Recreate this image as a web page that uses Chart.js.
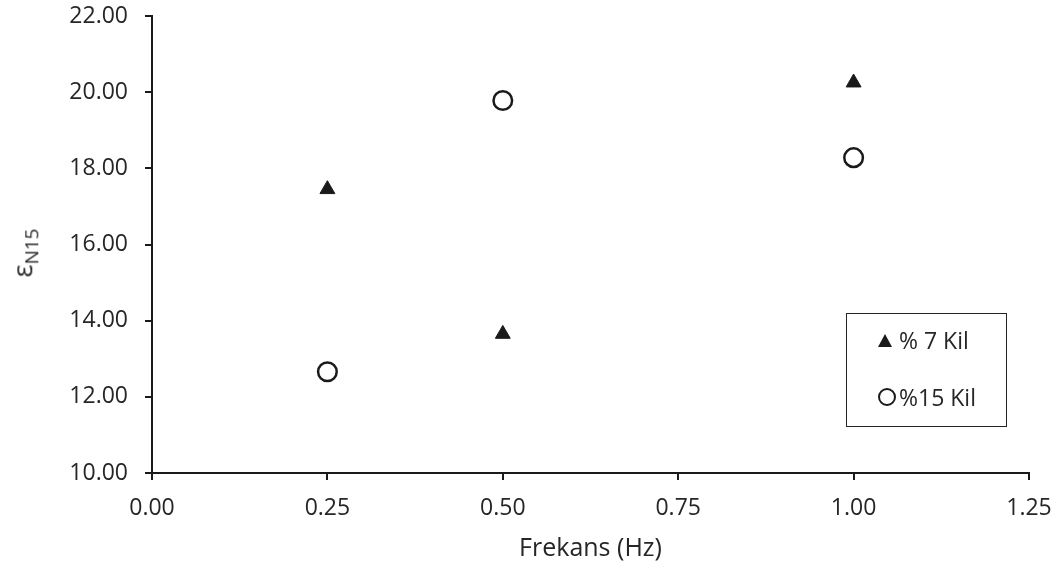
<!DOCTYPE html>
<html>
<head>
<meta charset="utf-8">
<script src="https://cdn.jsdelivr.net/npm/chart.js@4/dist/chart.umd.min.js"></script>
<style>
  body { margin: 0; background: #fff; }
  #wrap { position: relative; width: 1058px; height: 569px; font-family: "Open Sans", sans-serif; color: #262626; }
  #ytitle { position: absolute; left: 24px; top: 253px; transform: translate(-50%, -50%) rotate(-90deg); font-size: 27px; white-space: nowrap; }
  #ytitle sub { font-size: 19px; }
  #legend { position: absolute; left: 846px; top: 313px; width: 159px; height: 112px; border: 1.5px solid #262626; font-size: 23px; }
  .item { position: absolute; left: 31px; display: flex; align-items: center; }
  .tri { width: 0; height: 0; border-left: 7.5px solid transparent; border-right: 7.5px solid transparent; border-bottom: 13px solid #1a1a1a; margin-right: 7px; }
  .circ { width: 14px; height: 14px; border: 2.5px solid #1a1a1a; border-radius: 50%; margin-right: 3px; }
</style>
</head>
<body>
<div id="wrap">
  <canvas id="chart" width="1058" height="569"></canvas>
  <div id="ytitle">ε<sub>N15</sub></div>
  <div id="legend">
    <div class="item" style="top: 10px;"><span class="tri"></span><span>% 7 Kil</span></div>
    <div class="item" style="top: 67px;"><span class="circ"></span><span>%15 Kil</span></div>
  </div>
</div>
<script>
// Veriler
const frekans = [0.25, 0.50, 1.00];
const kil7 = [17.45, 13.65, 20.25];
const kil15 = [12.66, 19.78, 18.28];
const xTicks = [0, 0.25, 0.5, 0.75, 1.0, 1.25];
const yTicks = [10, 12, 14, 16, 18, 20, 22];

const ink = '#1a1a1a';
const txt = '#262626';
const font = { family: '"Open Sans", sans-serif', size: 23 };

// etiket taşma boşluklarını sıfırla, alanı layout.padding belirlesin
function noOverflow(s) {
    s.paddingTop = 0;
    s.paddingBottom = 0;
    s.paddingLeft = 0;
    s.paddingRight = 0;
}

const ctx = document.getElementById("chart").getContext('2d');

new Chart(ctx, {
    type: 'scatter',
    data: {
        datasets: [{
            label: "% 7 Kil",
            data: frekans.map((f, i) => ({ x: f, y: kil7[i] })),
            pointStyle: 'triangle',
            radius: 8.6,
            backgroundColor: ink,
            borderColor: ink,
            borderWidth: 1
        }, {
            label: "%15 Kil",
            data: frekans.map((f, i) => ({ x: f, y: kil15[i] })),
            pointStyle: 'circle',
            radius: 9.3,
            backgroundColor: '#fff',
            borderColor: ink,
            borderWidth: 2.5
        }]
    },
    options: {
        responsive: false,
        animation: false,
        layout: { padding: { left: 0, right: 29, top: 16, bottom: 0 } },
        plugins: { legend: { display: false }, tooltip: { enabled: false } },
        scales: {
            x: {
                type: 'linear',
                min: xTicks[0],
                max: xTicks[xTicks.length - 1],
                afterBuildTicks: s => { s.ticks = xTicks.map(v => ({ value: v })); },
                afterFit: s => { s.height = 96; noOverflow(s); },
                ticks: { color: txt, font: font, padding: 15, maxRotation: 0, callback: v => v.toFixed(2) },
                grid: { drawOnChartArea: false, drawTicks: true, tickLength: 7, color: ink, lineWidth: 2 },
                border: { color: ink, width: 2 },
                title: { display: true, text: "Frekans (Hz)", color: txt, font: { family: font.family, size: 25 }, padding: { top: 6, bottom: 5 } }
            },
            y: {
                min: yTicks[0],
                max: yTicks[yTicks.length - 1],
                afterBuildTicks: s => { s.ticks = yTicks.map(v => ({ value: v })); },
                afterFit: s => { s.width = 152; noOverflow(s); },
                ticks: { color: txt, font: font, padding: 17, callback: v => v.toFixed(2) },
                grid: { drawOnChartArea: false, drawTicks: true, tickLength: 7, color: ink, lineWidth: 2 },
                border: { color: ink, width: 2 }
            }
        }
    }
});
</script>
</body>
</html>
